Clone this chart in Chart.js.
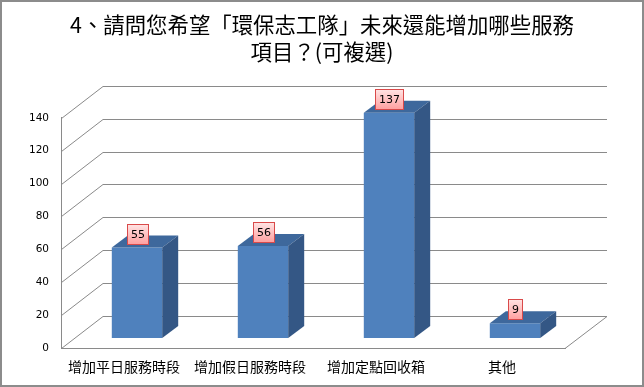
<!DOCTYPE html>
<html>
<head>
<meta charset="utf-8">
<script src="https://cdn.jsdelivr.net/npm/chart.js@4/dist/chart.umd.min.js"></script>
<style>
  html,body{margin:0;padding:0;background:#fff;}
  #wrap{width:644px;height:387px;position:relative;}
</style>
</head>
<body>
<div id="wrap"><canvas id="c" width="644" height="387"></canvas></div>
<script>
const titleLines = ['4、請問您希望「環保志工隊」未來還能增加哪些服務', '項目？(可複選)'];
const categories = ['增加平日服務時段', '增加假日服務時段', '增加定點回收箱', '其他'];
const counts = [55, 56, 137, 9];
const yMin = 0;
const yMax = 140;
const yStep = 20;

const FRONT = '#4f81bd', TOP = '#3e689c', SIDE = '#345785';
const GRID = '#8a8a8a';
const DEPTH_X = 42, DEPTH_Y = -32;       // wall depth
const BAR_OFF_X = 13, BAR_OFF_Y = -10;   // bar position inside the depth
const BAR_D_X = 16, BAR_D_Y = -12;       // bar depth

const threeD = {
  id: 'threeD',
  beforeDraw(chart) {
    const ctx = chart.ctx;
    ctx.save();
    ctx.fillStyle = '#fff';
    ctx.fillRect(0, 0, chart.width, chart.height);
    ctx.strokeStyle = '#8c8c8c';
    ctx.lineWidth = 2;
    ctx.strokeRect(1, 1, chart.width - 2, chart.height - 2);
    ctx.restore();
  },
  beforeDatasetsDraw(chart) {
    const {ctx, chartArea: a, scales: {y}} = chart;
    ctx.save();
    ctx.strokeStyle = GRID;
    ctx.lineWidth = 1;
    ctx.beginPath();
    y.ticks.forEach(t => {
      const py = Math.round(y.getPixelForValue(t.value)) + 0.5;
      ctx.moveTo(a.left + 0.5, py);
      ctx.lineTo(a.left + DEPTH_X, py + DEPTH_Y);
      ctx.lineTo(a.right + DEPTH_X, py + DEPTH_Y);
    });
    const fb = Math.round(a.bottom) + 0.5;
    ctx.moveTo(a.right, fb);
    ctx.lineTo(a.right + DEPTH_X, fb + DEPTH_Y);
    ctx.stroke();
    ctx.restore();
    ctx.save();
    ctx.translate(BAR_OFF_X, BAR_OFF_Y);
  },
  afterDatasetsDraw(chart) {
    const ctx = chart.ctx;
    ctx.restore();
    const meta = chart.getDatasetMeta(0);
    meta.data.forEach((bar, i) => {
      const p = bar.getProps(['x', 'y', 'base', 'width'], true);
      const L = p.x - p.width / 2 + BAR_OFF_X;
      const R = p.x + p.width / 2 + BAR_OFF_X;
      const T = p.y + BAR_OFF_Y;
      const B = p.base + BAR_OFF_Y;
      ctx.beginPath();
      ctx.moveTo(L, T); ctx.lineTo(R, T);
      ctx.lineTo(R + BAR_D_X, T + BAR_D_Y); ctx.lineTo(L + BAR_D_X, T + BAR_D_Y);
      ctx.closePath();
      ctx.fillStyle = TOP; ctx.fill();
      ctx.beginPath();
      ctx.moveTo(R, T); ctx.lineTo(R + BAR_D_X, T + BAR_D_Y);
      ctx.lineTo(R + BAR_D_X, B + BAR_D_Y); ctx.lineTo(R, B);
      ctx.closePath();
      ctx.fillStyle = SIDE; ctx.fill();
    });
    meta.data.forEach((bar, i) => {
      const p = bar.getProps(['x', 'y'], true);
      const txt = String(counts[i]);
      ctx.save();
      ctx.font = '11px "DejaVu Sans"';
      const tw = ctx.measureText(txt).width;
      const w = Math.round(tw + 7), h = 20;
      const cx = p.x + BAR_OFF_X;
      const bx = Math.round(cx - w / 2) + 0.5;
      const by = Math.round(p.y + BAR_OFF_Y - 4 - h) + 0.5;
      const g = ctx.createLinearGradient(0, by, 0, by + h);
      g.addColorStop(0, '#ffe4e4');
      g.addColorStop(1, '#ff9f9f');
      ctx.fillStyle = g;
      ctx.fillRect(bx, by, w, h);
      ctx.strokeStyle = '#d94a4a';
      ctx.lineWidth = 1;
      ctx.strokeRect(bx, by, w, h);
      ctx.fillStyle = '#000';
      ctx.textAlign = 'center';
      ctx.textBaseline = 'middle';
      ctx.fillText(txt, bx + w / 2, by + h / 2 + 0.5);
      ctx.restore();
    });
  }
};

new Chart(document.getElementById('c'), {
  type: 'bar',
  data: {
    labels: categories,
    datasets: [{
      data: counts,
      backgroundColor: FRONT,
      borderWidth: 0,
      categoryPercentage: 1,
      barPercentage: 0.4,
      clip: false
    }]
  },
  plugins: [threeD],
  options: {
    responsive: false,
    animation: false,
    devicePixelRatio: 1,
    layout: { padding: 0 },
    plugins: {
      legend: { display: false },
      tooltip: { enabled: false },
      title: {
        display: true,
        text: titleLines,
        color: '#000',
        font: { family: '"Noto Sans CJK TC"', size: 21.4, weight: 'normal', lineHeight: 1.28 },
        padding: { top: 11, bottom: 52 }
      }
    },
    scales: {
      x: {
        grid: { display: false, drawTicks: false },
        border: { display: true, color: GRID, width: 1 },
        ticks: {
          color: '#000',
          padding: 10,
          maxRotation: 0,
          autoSkip: false,
          font: { family: '"Noto Sans CJK TC"', size: 14 }
        },
        afterFit(scale) { scale.height = 39; }
      },
      y: {
        min: yMin,
        max: yMax,
        grid: { display: false, drawTicks: false },
        border: { display: true, color: GRID, width: 1 },
        ticks: {
          stepSize: yStep,
          color: '#000',
          padding: 12,
          font: { family: '"DejaVu Sans"', size: 10.5 }
        },
        afterFit(scale) { scale.width = 61; }
      },
      yRight: {
        type: 'linear',
        position: 'right',
        min: yMin,
        max: yMax,
        grid: { display: false, drawTicks: false },
        border: { display: false },
        ticks: { display: false },
        afterFit(scale) { scale.width = 79; }
      }
    }
  }
});
</script>
</body>
</html>
